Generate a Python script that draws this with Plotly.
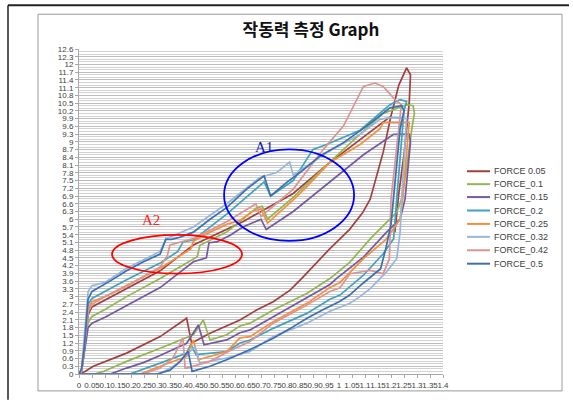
import plotly.graph_objects as go

# ---------------- data ----------------
series_names = ["FORCE 0.05", "FORCE_0.1", "FORCE_0.15", "FORCE_0.2",
                "FORCE_0.25", "FORCE_0.32", "FORCE_0.42", "FORCE_0.5"]
series_colors = ["#A0403E", "#93B550", "#7558A0", "#40A3BD",
                 "#F58F3F", "#98B5DA", "#DA9593", "#3C6FAF"]

f005_x = [0, 0.01, 0.02, 0.035, 0.05, 0.183, 0.312, 0.44, 0.568, 0.63, 0.70, 0.824, 0.952, 1.081, 1.2, None,
          0, 0.023, 0.055, 0.183, 0.312, 0.414, 0.433, 0.504, 0.619, 0.683, 0.747, 0.812, 0.856, 0.965, 1.04,
          1.09, 1.12, 1.17, 1.2, 1.23, 1.26, 1.275, 1.27, 1.25, 1.23, 1.215]
f005_y = [0, 0.1, 1.0, 2.3, 2.6, 3.3, 4.0, 5.0, 5.6, 5.9, 6.3, 7.0, 8.1, 9.1, 10.0, None,
          0, 0.1, 0.3, 0.81, 1.45, 2.16, 1.2, 1.58, 2.09, 2.48, 2.8, 3.25, 3.7, 4.86, 5.6,
          6.24, 6.78, 8.6, 10.0, 11.2, 11.87, 11.6, 10.5, 8.5, 7.0, 5.5]

f01_x = [0, 0.06, 0.094, 0.183, 0.312, 0.44, 0.478, 0.504, 0.568, 0.619, 0.658, 0.747, 0.876, 0.965, 1.042,
         1.12, 1.183, 1.222, 1.241, 1.26, 1.28, 1.29, 1.285, 1.26, 1.17, 1.081, 0.952, 0.824, 0.725, 0.705,
         0.684, 0.568, 0.465, 0.455, 0.312, 0.183, 0.1, 0.05, 0.035, 0.02, 0.01, 0]
f01_y = [0, 0, 0.1, 0.49, 1.0, 1.52, 2.09, 1.32, 1.52, 1.86, 1.97, 2.48, 3.12, 3.7, 4.34,
         5.24, 5.88, 6.27, 6.78, 8.0, 9.5, 10.1, 10.4, 10.44, 10.1, 9.3, 8.1, 6.85, 6.0, 6.5,
         6.45, 5.5, 4.99, 4.55, 3.7, 3.0, 2.5, 2.23, 2.0, 0.8, 0.1, 0]

f015_x = [0, 0.12, 0.183, 0.25, 0.312, 0.414, 0.459, 0.481, 0.568, 0.619, 0.658, 0.747, 0.876, 0.965, 0.99,
          1.094, 1.183, 1.235, 1.254, 1.265, 1.275, 1.27, 1.21, 1.094, 0.965, 0.824, 0.72, 0.70, 0.63,
          0.58, 0.53, 0.50, 0.49, 0.44, 0.312, 0.183, 0.1, 0.05, 0.035, 0.02, 0.01, 0]
f015_y = [0, 0, 0.23, 0.45, 0.72, 1.19, 1.9, 1.13, 1.32, 1.6, 1.71, 2.22, 2.93, 3.47, 3.7,
          4.53, 5.5, 6.0, 6.78, 8.0, 9.0, 9.3, 9.29, 8.5, 7.44, 6.3, 5.6, 6.0, 5.7,
          5.37, 5.12, 5.09, 4.5, 4.35, 3.35, 2.65, 2.2, 1.97, 1.8, 0.8, 0.1, 0]

f02_x = [0, 0.196, 0.312, 0.414, 0.43, 0.45, 0.568, 0.619, 0.658, 0.747, 0.876, 0.965, 1.004, 1.094, 1.17,
         1.21, 1.222, 1.235, 1.25, 1.26, 1.235, 1.196, 1.081, 0.952, 0.9, 0.824, 0.737, 0.712, 0.568, 0.44,
         0.40, 0.38, 0.312, 0.183, 0.1, 0.05, 0.035, 0.02, 0.01, 0]
f02_y = [0, 0, 0.42, 0.81, 1.15, 0.75, 0.87, 1.2, 1.32, 1.77, 2.35, 2.9, 3.06, 3.83, 4.66,
         5.24, 6.78, 8.5, 10.2, 10.57, 10.64, 10.44, 9.45, 8.9, 8.71, 7.5, 6.9, 7.45, 6.2, 5.2,
         5.12, 4.75, 4.3, 3.65, 3.2, 2.93, 2.7, 1.0, 0.2, 0]

f025_x = [0, 0.235, 0.312, 0.414, 0.44, 0.459, 0.568, 0.619, 0.658, 0.747, 0.876, 0.965, 1.004, 1.094, 1.183,
          1.235, 1.245, 1.26, 1.27, 1.17, 1.157, 1.081, 0.965, 0.87, 0.824, 0.725, 0.70, 0.67, 0.619, 0.568,
          0.504, 0.44, 0.43, 0.312, 0.183, 0.1, 0.05, 0.035, 0.02, 0.01, 0]
f025_y = [0, 0, 0.3, 0.68, 1.32, 0.55, 0.87, 1.4, 1.45, 2.03, 2.74, 3.35, 3.55, 4.47, 5.24,
          6.0, 6.8, 8.5, 9.75, 9.75, 9.5, 8.9, 8.2, 7.2, 6.75, 5.85, 6.4, 6.33, 5.95, 5.8,
          5.5, 5.15, 4.85, 4.1, 3.45, 3.0, 2.8, 2.5, 1.0, 0.1, 0]

f032_x = [0, 0.31, 0.38, 0.446, 0.465, 0.568, 0.658, 0.747, 0.876, 0.965, 1.042, 1.08, 1.12, 1.183, 1.222,
          1.235, 1.241, 1.25, 1.26, 1.2, 1.157, 1.081, 0.952, 0.824, 0.81, 0.76, 0.696, 0.568, 0.44, 0.36,
          0.334, 0.312, 0.183, 0.1, 0.05, 0.035, 0.02, 0.01, 0]
f032_y = [0, 0, 0.4, 1.06, 0.42, 0.62, 0.87, 1.45, 1.97, 2.43, 2.74, 3.0, 3.31, 3.96, 4.47,
          5.5, 6.78, 8.5, 9.9, 9.95, 9.87, 9.29, 8.58, 7.71, 8.22, 7.81, 7.62, 6.6, 5.7, 5.35,
          5.25, 4.75, 4.1, 3.55, 3.42, 3.2, 1.2, 0.2, 0]

f042_x = [0, 0.246, 0.312, 0.36, 0.40, 0.408, 0.414, 0.504, 0.58, 0.658, 0.747, 0.876, 0.965, 1.004, 1.042,
          1.12, 1.17, 1.194, 1.2, 1.235, 1.24, 1.215, 1.17, 1.138, 1.094, 1.017, 0.94, 0.824, 0.70, 0.68,
          0.568, 0.44, 0.35, 0.34, 0.312, 0.183, 0.1, 0.05, 0.035, 0.02, 0.01, 0]
f042_y = [0, 0, 0.23, 0.6, 1.39, 0.23, 0.23, 0.49, 0.9, 1.26, 1.97, 2.67, 3.2, 3.34, 3.89,
          4.02, 3.89, 4.47, 6.78, 9.8, 10.44, 10.64, 11.15, 11.28, 11.15, 9.61, 8.71, 7.17, 6.1, 6.6,
          5.9, 5.25, 5.0, 4.6, 4.15, 3.4, 3.0, 2.7, 2.4, 1.0, 0.1, 0]

f05_x = [0, 0.3, 0.35, 0.39, 0.42, 0.435, 0.504, 0.58, 0.658, 0.747, 0.81, 0.877, 0.94, 1.0, 1.04,
         1.09, 1.16, 1.18, 1.2, 1.21, 1.22, 1.235, 1.25, 1.241, 1.196, 1.106, 1.017, 0.927, 0.85, 0.799,
         0.737, 0.712, 0.645, 0.568, 0.504, 0.44, 0.388, 0.356, 0.334, 0.312, 0.248, 0.183, 0.119, 0.05,
         0.035, 0.02, 0.01, 0]
f05_y = [0, 0, 0.15, 0.5, 0.88, 0.1, 0.3, 0.6, 0.95, 1.39, 1.75, 2.16, 2.5, 2.8, 3.05,
         3.5, 4.08, 4.86, 5.8, 6.78, 8.0, 9.5, 10.2, 10.4, 10.32, 9.61, 8.97, 8.45, 7.81, 7.43,
         6.9, 7.68, 7.17, 6.45, 6.0, 5.5, 5.3, 5.22, 5.22, 4.65, 4.35, 4.0, 3.6, 3.2,
         2.9, 1.0, 0.2, 0]

series_x = [f005_x, f01_x, f015_x, f02_x, f025_x, f032_x, f042_x, f05_x]
series_y = [f005_y, f01_y, f015_y, f02_y, f025_y, f032_y, f042_y, f05_y]

x_tick_vals = [i * 0.05 for i in range(29)]
x_tick_text = ["0", "0.05", "0.1", "0.15", "0.2", "0.25", "0.3", "0.35", "0.4", "0.45", "0.5",
               "0.55", "0.6", "0.65", "0.7", "0.75", "0.8", "0.85", "0.9", "0.95", "1", "1.05",
               "1.1", "1.15", "1.2", "1.25", "1.3", "1.35", "1.4"]
y_tick_vals = [round(i * 0.3, 1) for i in range(43)]
y_tick_text = ["0", "0.3", "0.6", "0.9", "1.2", "1.5", "1.8", "2.1", "2.4", "2.7", "3", "3.3",
               "3.6", "3.9", "4.2", "4.5", "4.8", "5.1", "5.4", "5.7", "6", "6.3", "6.6", "6.9",
               "7.2", "7.5", "7.8", "8.1", "8.4", "8.7", "9", "9.3", "9.6", "9.9", "10.2", "10.5",
               "10.8", "11.1", "11.4", "11.7", "12", "12.3", "12.6"]

title_text = "작동력 측정 Graph"

# ---------------- layout geometry (pixels) ----------------
W, H = 573, 402
PL, PR, PT, PB = 79, 443, 49, 376


def px(x):
    return (x - PL) / (PR - PL)


def py(y):
    return (PB - y) / (PB - PT)


fig = go.Figure()
for name, color, xs, ys in zip(series_names, series_colors, series_x, series_y):
    fig.add_trace(go.Scatter(x=xs, y=ys, mode="lines", name=name, showlegend=False,
                             line=dict(color=color, width=1.7), connectgaps=False))

shapes = []
# outer black frame lines
shapes.append(dict(type="line", xref="paper", yref="paper", x0=px(8), x1=px(569), y0=py(5), y1=py(5),
                   line=dict(color="#222222", width=2)))
shapes.append(dict(type="line", xref="paper", yref="paper", x0=px(8), x1=px(8), y0=py(5), y1=py(402),
                   line=dict(color="#222222", width=1.5)))
# chart area border
shapes.append(dict(type="rect", xref="paper", yref="paper", x0=px(38), x1=px(562), y0=py(393), y1=py(14),
                   line=dict(color="#9a9a9a", width=1)))
# ellipses A1, A2
shapes.append(dict(type="circle", xref="x", yref="y", x0=0.558, x1=1.058, y0=5.16, y1=8.71,
                   line=dict(color="#0000FF", width=1.8)))
shapes.append(dict(type="circle", xref="x", yref="y", x0=0.127, x1=0.627, y0=3.89, y1=5.39,
                   line=dict(color="#FF0000", width=1.8)))

annotations = [
    dict(text="A1", x=0.712, y=8.82, xref="x", yref="y", showarrow=False,
         font=dict(family="Liberation Serif", size=15, color="#1010C0")),
    dict(text="A2", x=0.277, y=5.97, xref="x", yref="y", showarrow=False,
         font=dict(family="Liberation Serif", size=15, color="#FF2020")),
]

# legend (drawn manually to match the compact spacing)
leg_y = [172, 185, 198, 211.5, 225, 238, 251.5, 265]
for name, color, ly in zip(series_names, series_colors, leg_y):
    shapes.append(dict(type="line", xref="paper", yref="paper", x0=px(467), x1=px(490), y0=py(ly), y1=py(ly),
                       line=dict(color=color, width=2)))
    annotations.append(dict(text=name, xref="paper", yref="paper", x=px(492), y=py(ly), xanchor="left",
                            yanchor="middle", showarrow=False,
                            font=dict(family="Liberation Sans", size=9, color="#404040")))

fig.update_layout(
    width=W, height=H,
    margin=dict(l=PL, r=W - PR, t=PT, b=H - PB, pad=0),
    paper_bgcolor="white", plot_bgcolor="white",
    title=dict(text=title_text, x=311 / W, y=1 - 30 / H, xref="container", yref="container",
               xanchor="center", yanchor="middle",
               font=dict(family="Noto Sans CJK KR", size=17, color="#111111", weight="bold")),
    xaxis=dict(range=[0, 1.4], tickmode="array", tickvals=x_tick_vals, ticktext=x_tick_text, tickangle=0,
               showgrid=False, zeroline=False, showline=True, linecolor="#a8a8a8", linewidth=1,
               ticks="outside", ticklen=3, tickcolor="#a8a8a8",
               tickfont=dict(family="Liberation Sans", size=8, color="#404040")),
    yaxis=dict(range=[0, 12.6], tickmode="array", tickvals=y_tick_vals, ticktext=y_tick_text,
               showgrid=True, gridcolor="#bdbdbd", gridwidth=1, zeroline=False, showline=True,
               linecolor="#a8a8a8", linewidth=1, ticks="outside", ticklen=3, tickcolor="#a8a8a8",
               tickfont=dict(family="Liberation Sans", size=8, color="#404040"),
               minor=dict(dtick=0.1, showgrid=True, gridcolor="#d2d2d2", gridwidth=1)),
    shapes=shapes,
    annotations=annotations,
    showlegend=False,
)

fig.write_html("out.html", config={"displayModeBar": False},
               post_script="document.body.style.margin='0px';")
